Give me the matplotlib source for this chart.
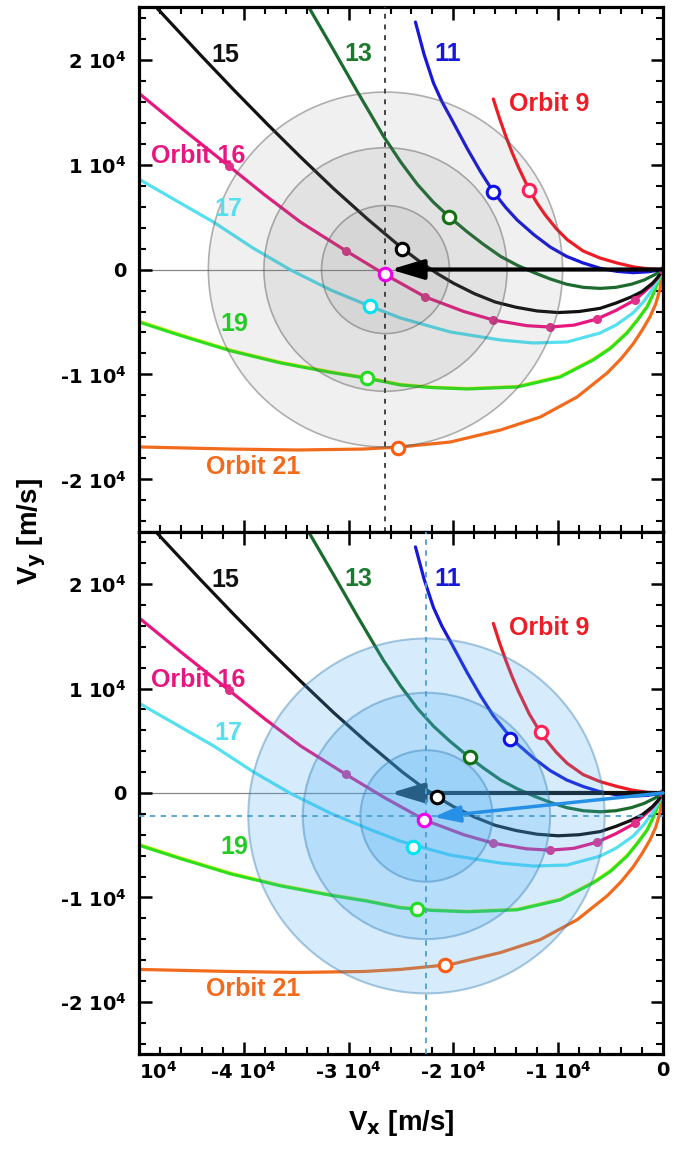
import numpy as np
import matplotlib.pyplot as plt
from matplotlib.patches import Circle
from matplotlib.colors import to_rgba
from matplotlib.ticker import MultipleLocator

plt.rcParams['font.family'] = ['DejaVu Sans']
plt.rcParams['font.weight'] = 'bold'
plt.rcParams['mathtext.fontset'] = 'dejavusans'
plt.rcParams['mathtext.default'] = 'bf'
plt.rcParams['axes.unicode_minus'] = False

E4 = 1e4  # all values below are in units of 1e4 m/s

# orbit tracks (Vx, Vy)
o9_x = [-1.619, -1.56, -1.5, -1.44, -1.38, -1.32, -1.276, -1.2, -1.124, -1.019, -0.914,
        -0.762, -0.6, -0.438, -0.286, -0.143, 0]
o9_y = [1.624, 1.44, 1.27, 1.115, 0.975, 0.85, 0.757, 0.63, 0.52, 0.39, 0.284,
        0.176, 0.109, 0.062, 0.026, 0.006, 0]

o11_x = [-2.362, -2.28, -2.19, -2.11, -2.029, -1.867, -1.74, -1.619, -1.5, -1.39, -1.23,
         -1.076, -0.92, -0.762, -0.6, -0.438, -0.286, -0.14, 0]
o11_y = [2.357, 2.05, 1.776, 1.6, 1.452, 1.15, 0.93, 0.74, 0.59, 0.47, 0.33,
         0.214, 0.125, 0.062, 0.012, -0.018, -0.03, -0.022, 0]

o13_x = [-3.381, -3.143, -2.914, -2.667, -2.5, -2.343, -2.19, -2.038, -1.87, -1.714, -1.55,
         -1.39, -1.23, -1.076, -0.92, -0.76, -0.6, -0.45, -0.3, -0.18, -0.08, 0]
o13_y = [2.5, 2.09, 1.69, 1.27, 1.02, 0.81, 0.64, 0.5, 0.36, 0.24, 0.125,
         0.04, -0.03, -0.09, -0.14, -0.17, -0.18, -0.17, -0.14, -0.1, -0.05, 0]

o15_x = [-4.838, -4.41, -4.095, -3.771, -3.457, -3.143, -2.819, -2.486, -2.3, -2.152, -2.0,
         -1.8, -1.6, -1.4, -1.2, -1.0, -0.8, -0.6, -0.45, -0.3, -0.2, -0.1, -0.05, 0]
o15_y = [2.5, 2.04, 1.71, 1.38, 1.07, 0.77, 0.48, 0.2, 0.06, -0.04, -0.13,
         -0.23, -0.31, -0.36, -0.395, -0.41, -0.4, -0.37, -0.32, -0.26, -0.21, -0.13, -0.075, 0]

o16_x = [-5.0, -4.6, -4.143, -3.8, -3.457, -3.029, -2.657, -2.267, -1.9, -1.619, -1.3, -1.076,
         -0.85, -0.629, -0.45, -0.267, -0.12, -0.05, 0]
o16_y = [1.678, 1.35, 0.986, 0.71, 0.45, 0.18, -0.045, -0.262, -0.4, -0.481, -0.535, -0.548,
         -0.53, -0.471, -0.39, -0.29, -0.16, -0.08, 0]
o16_dots_x = [-4.143, -3.029, -2.267, -1.619, -1.076, -0.629, -0.267, 0]
o16_dots_y = [0.986, 0.18, -0.262, -0.481, -0.548, -0.471, -0.29, 0]

o17_x = [-5.0, -4.6, -4.286, -3.905, -3.552, -3.171, -2.8, -2.505, -2.029, -1.552, -1.238,
         -0.914, -0.6, -0.45, -0.286, -0.18, -0.095, -0.05, 0]
o17_y = [0.86, 0.63, 0.45, 0.2, -0.005, -0.195, -0.348, -0.462, -0.595, -0.671, -0.7,
         -0.69, -0.605, -0.53, -0.414, -0.3, -0.18, -0.1, 0]

o19_x = [-5.0, -4.6, -4.124, -3.648, -3.171, -2.829, -2.505, -2.2, -1.867, -1.39, -0.981,
         -0.667, -0.5, -0.343, -0.25, -0.152, -0.1, -0.048, 0]
o19_y = [-0.5, -0.63, -0.775, -0.89, -0.98, -1.035, -1.1, -1.125, -1.138, -1.119, -1.024,
         -0.862, -0.75, -0.605, -0.49, -0.357, -0.25, -0.12, 0]
o20_y = [-0.492, -0.622, -0.768, -0.883, -0.974, -1.029, -1.094, -1.12, -1.133, -1.113, -1.017,
         -0.854, -0.742, -0.597, -0.483, -0.35, -0.244, -0.115, 0]

o21_x = [-5.0, -4.124, -3.486, -2.857, -2.505, -2.029, -1.552, -1.171, -0.819, -0.533, -0.4,
         -0.286, -0.2, -0.124, -0.07, -0.029, 0]
o21_y = [-1.69, -1.71, -1.719, -1.71, -1.69, -1.643, -1.529, -1.405, -1.214, -0.986, -0.85,
         -0.71, -0.58, -0.45, -0.33, -0.19, 0]

curves = [
    (o21_x, o21_y, '#f26a1c'),
    (o19_x, o20_y, '#f0ec30'),
    (o19_x, o19_y, '#2ee01a'),
    (o17_x, o17_y, '#55e0f0'),
    (o16_x, o16_y, '#e8177f'),
    (o15_x, o15_y, '#111111'),
    (o13_x, o13_y, '#1b6b2f'),
    (o11_x, o11_y, '#1818d8'),
    (o9_x, o9_y, '#ee1c25'),
]

mk_colors = ['#ff2055', '#1010e8', '#127012', '#000000', '#ee00ee', '#00e4f0', '#22dd22', '#ff5a10']
top_mk_x = [-1.276, -1.619, -2.038, -2.486, -2.657, -2.80, -2.829, -2.533]
top_mk_y = [0.757, 0.74, 0.50, 0.2, -0.045, -0.348, -1.035, -1.70]
bot_mk_x = [-1.162, -1.457, -1.838, -2.152, -2.276, -2.381, -2.343, -2.076]
bot_mk_y = [0.584, 0.52, 0.34, -0.04, -0.26, -0.52, -1.11, -1.645]

# uncertainty circles
top_center = (-2.648, 0.0)
top_radii = [1.69, 1.16, 0.61]
bot_center = (-2.257, -0.22)
bot_radii = [1.70, 1.18, 0.63]

labels = ['15', '13', '11', 'Orbit 9', 'Orbit 16', '17', '19', 'Orbit 21']
label_x = [-4.18, -2.905, -2.057, -1.086, -4.438, -4.143, -4.086, -3.914]
label_y = [2.04, 2.05, 2.05, 1.576, 1.08, 0.576, -0.52, -1.88]
label_c = ['#111111', '#1b7a2e', '#1818d8', '#ee1c25', '#e8177f', '#55e0f0', '#22cc22', '#f26a1c']

yticks = [-2, -1, 0, 1, 2]
ytick_labels = ['-2 10$^4$', '-1 10$^4$', '0', '1 10$^4$', '2 10$^4$']
xticks = [-5, -4, -3, -2, -1, 0]
xtick_labels = ['10$^4$', '-4 10$^4$', '-3 10$^4$', '-2 10$^4$', '-1 10$^4$', '0']

fig = plt.figure(figsize=(6.83, 11.5), dpi=100)
ax1 = fig.add_axes([0.2035, 0.5374, 0.7672, 0.4565])
ax2 = fig.add_axes([0.2035, 0.0835, 0.7672, 0.4539])

for ax in (ax1, ax2):
    ax.set_xlim(-5 * E4, 0)
    ax.set_ylim(-2.5 * E4, 2.5 * E4)
    ax.axhline(0, color='#888888', lw=0.9, zorder=1)
    for x, y, c in curves:
        ax.plot(np.array(x) * E4, np.array(y) * E4, color=c, lw=2.3, zorder=2,
                solid_capstyle='round', solid_joinstyle='round')
    ax.plot(np.array(o16_dots_x) * E4, np.array(o16_dots_y) * E4, 'o', ms=5.5,
            color='#e0308a', zorder=2.5)
    for t, x, y, c in zip(labels, label_x, label_y, label_c):
        ax.text(x * E4, y * E4, t, color=c, fontsize=18, fontweight='bold',
                family='Liberation Sans', ha='center', va='center', zorder=7)
    ax.set_yticks([v * E4 for v in yticks], ytick_labels)
    ax.set_xticks([v * E4 for v in xticks], xtick_labels)
    ax.xaxis.set_minor_locator(MultipleLocator(2000))
    ax.yaxis.set_minor_locator(MultipleLocator(2000))
    ax.tick_params(which='both', direction='in', top=True, right=True, labelsize=14)
    ax.tick_params(which='major', length=9, width=1.8)
    ax.tick_params(which='minor', length=5, width=1.5)
    ax.tick_params(axis='y', pad=9)
    ax.tick_params(axis='x', pad=5)
    for s in ax.spines.values():
        s.set_linewidth(2.3)

ax1.tick_params(labelbottom=False)
ax2.get_xticklabels()[0].set_horizontalalignment('left')

# top panel: grey circles over curves, arrow and markers on top
for r in top_radii:
    ax1.add_patch(Circle((top_center[0] * E4, top_center[1] * E4), r * E4,
                         facecolor=to_rgba('#707070', 0.10), edgecolor=to_rgba('#555555', 0.45),
                         lw=1.2, zorder=4))
ax1.axvline(top_center[0] * E4, color='#444444', lw=1.4, ls=(0, (2.5, 3)), zorder=4.5)
ax1.annotate('', xy=(-2.6 * E4, 0), xytext=(0, 0), zorder=5,
             arrowprops=dict(arrowstyle='-|>,head_length=2.0,head_width=0.6', color='k',
                             lw=3, shrinkA=0, shrinkB=0))
for x, y, c in zip(top_mk_x, top_mk_y, mk_colors):
    ax1.plot(x * E4, y * E4, 'o', ms=9, mfc='white', mec=c, mew=2.2, zorder=6)

# bottom panel: black arrow under the blue circles
ax2.annotate('', xy=(-2.6 * E4, 0), xytext=(0, 0), zorder=3,
             arrowprops=dict(arrowstyle='-|>,head_length=2.0,head_width=0.6', color='#111111',
                             lw=3, shrinkA=0, shrinkB=0))
for r in bot_radii:
    ax2.add_patch(Circle((bot_center[0] * E4, bot_center[1] * E4), r * E4,
                         facecolor=to_rgba('#3fa9f5', 0.21), edgecolor=to_rgba('#2f78b0', 0.4),
                         lw=1.5, zorder=4))
ax2.axvline(bot_center[0] * E4, color='#4aa0d0', lw=1.3, ls=(0, (3, 3)), zorder=4.5)
ax2.axhline(bot_center[1] * E4, color='#4aa0d0', lw=1.3, ls=(0, (3, 3)), zorder=4.5)
ax2.annotate('', xy=(-2.19 * E4, -0.23 * E4), xytext=(0, 0), zorder=5,
             arrowprops=dict(arrowstyle='-|>,head_length=1.6,head_width=0.5', color='#2590e6',
                             lw=2.5, shrinkA=0, shrinkB=0))
for x, y, c in zip(bot_mk_x, bot_mk_y, mk_colors):
    ax2.plot(x * E4, y * E4, 'o', ms=9, mfc='white', mec=c, mew=2.2, zorder=6)

fig.text(32 / 683, 1 - 532 / 1150, 'V$_y$ [m/s]', rotation=90, fontsize=20, fontweight='bold',
         family='Liberation Sans', ha='center', va='center')
fig.text(401 / 683, 1 - 1123 / 1150, 'V$_x$ [m/s]', fontsize=20, fontweight='bold',
         family='Liberation Sans', ha='center', va='center')

fig.savefig('out.png', dpi=100)
